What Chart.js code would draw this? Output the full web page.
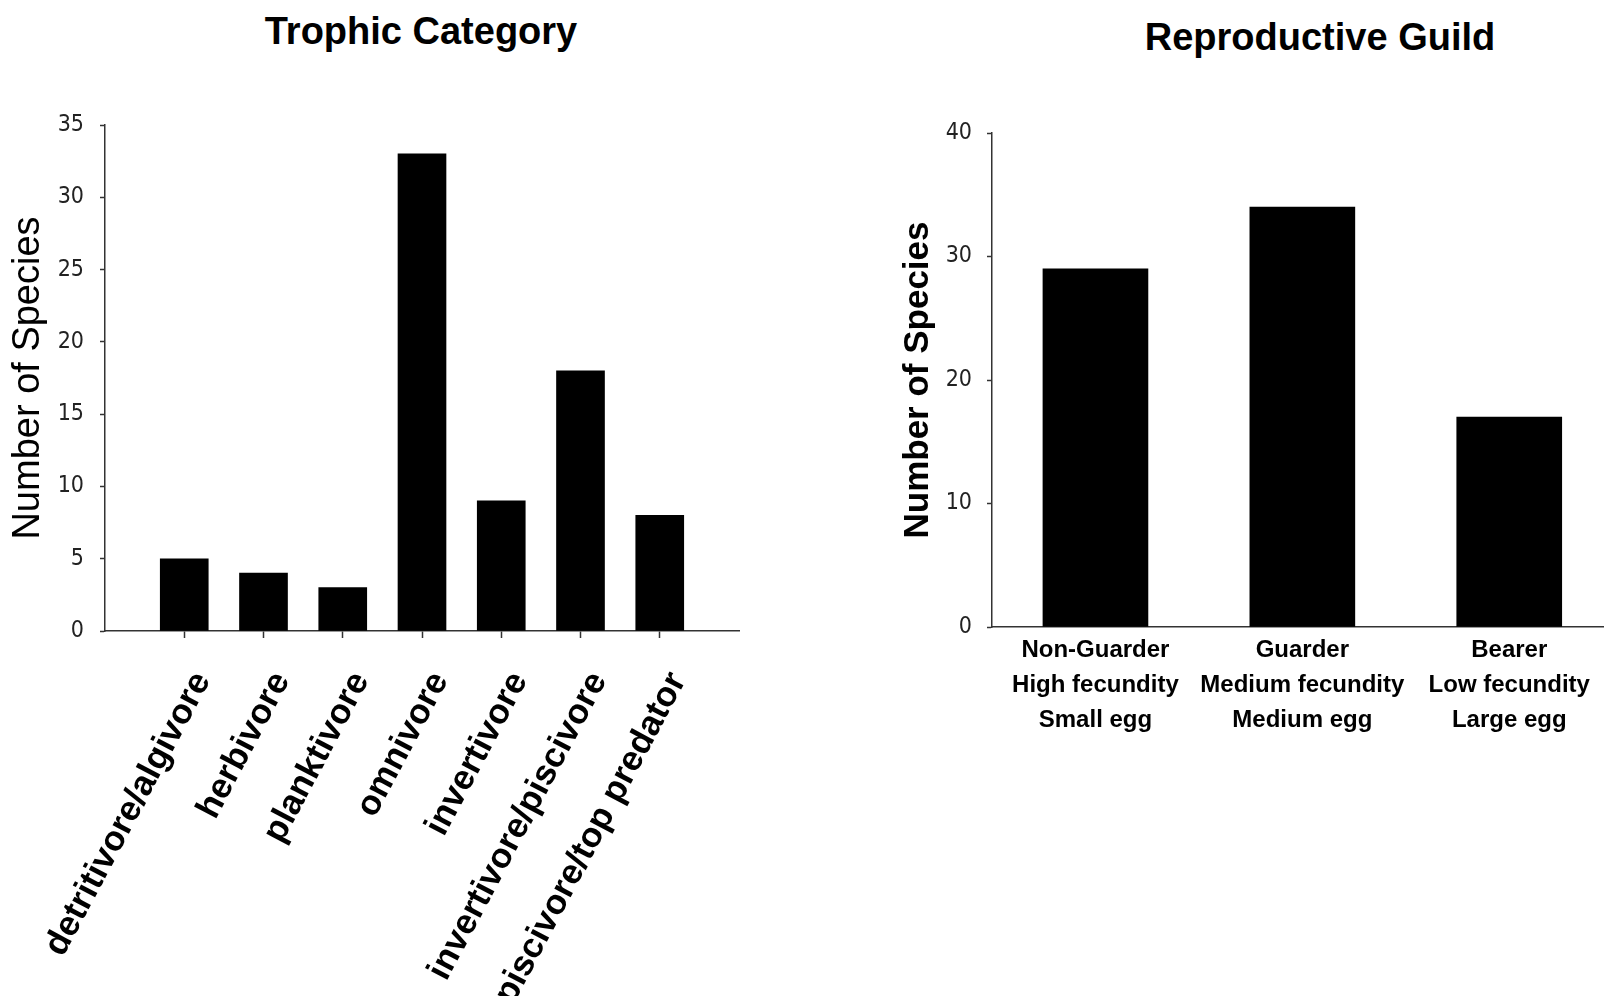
<!DOCTYPE html>
<html>
<head>
<meta charset="utf-8">
<script src="https://cdn.jsdelivr.net/npm/chart.js@4.4.1/dist/chart.umd.min.js"></script>
<style>
html, body { margin: 0; padding: 0; background: #fff; overflow: hidden; }
body { width: 1604px; height: 996px; position: relative; font-family: 'Liberation Sans', Arial, sans-serif; }
.title { position: absolute; width: 400px; text-align: center; font-weight: bold; font-size: 38px; line-height: 40px; color: #000; }
#leftBox { position: absolute; left: 0; top: 0; width: 800px; height: 996px; }
#rightBox { position: absolute; left: 870px; top: 0; width: 734px; height: 996px; }
</style>
</head>
<body>
<div class="title" style="left:221px; top:11px;">Trophic Category</div>
<div class="title" style="left:1120px; top:17px;">Reproductive Guild</div>
<div id="leftBox"><canvas id="trophic" width="800" height="996"></canvas></div>
<div id="rightBox"><canvas id="guild" width="734" height="996"></canvas></div>
<script>
var trophicCategories = ['detritivore/algivore', 'herbivore', 'planktivore', 'omnivore',
    'invertivore', 'invertivore/piscivore', 'piscivore/top predator'];
var trophicCounts = [5, 4, 3, 33, 9, 18, 8];

var guildNames = [
    ['Non-Guarder', 'High fecundity', 'Small egg'],
    ['Guarder', 'Medium fecundity', 'Medium egg'],
    ['Bearer', 'Low fecundity', 'Large egg']
];
var guildCounts = [29, 34, 17];

var narrow = "'Liberation Sans Narrow', 'Arial Narrow', 'DejaVu Sans Condensed', sans-serif";
var plain = "'Liberation Sans', Arial, sans-serif";
var axisColor = '#333';

// bars sit at x = 1, 2, 3 ... on a linear axis so the axis can run past the first/last bar
function points(values) {
    return values.map(function (v, i) { return { x: i + 1, y: v }; });
}
function tickList(labels) {
    return labels.map(function (l, i) { return { value: i + 1 }; });
}

new Chart(document.getElementById('trophic'), {
    type: 'bar',
    data: {
        datasets: [{
            data: points(trophicCounts),
            backgroundColor: '#000',
            barThickness: 48
        }]
    },
    options: {
        responsive: false,
        animation: false,
        layout: { padding: { top: 125, right: 61, left: 0, bottom: 0 } },
        plugins: { legend: { display: false }, tooltip: { enabled: false } },
        scales: {
            x: {
                type: 'linear', min: 0, max: 8, offset: false,
                afterBuildTicks: function (s) { s.ticks = tickList(trophicCategories); },
                afterFit: function (s) { s.height = 365; },
                grid: { drawOnChartArea: false, offset: false, tickLength: 7, tickColor: axisColor, tickWidth: 1.5 },
                border: { color: axisColor, width: 1.5 },
                ticks: {
                    autoSkip: false, minRotation: 62, maxRotation: 62, padding: 19, labelOffset: 18,
                    color: '#000',
                    font: { family: plain, size: 35, weight: 'bold', lineHeight: 2.2 },
                    callback: function (v) { return trophicCategories[v - 1] || ''; }
                }
            },
            y: {
                min: 0, max: 35,
                afterFit: function (s) { s.width = 105; },
                grid: { drawOnChartArea: false, tickLength: 5, tickColor: axisColor, tickWidth: 1.5 },
                border: { color: axisColor, width: 1.5 },
                ticks: { stepSize: 5, padding: 16, color: '#222', font: { family: narrow, size: 23 } },
                title: {
                    display: true, text: 'Number of Species', color: '#000',
                    font: { family: plain, size: 38 }, padding: { top: 6, bottom: 0 }
                }
            }
        }
    }
});

new Chart(document.getElementById('guild'), {
    type: 'bar',
    data: {
        datasets: [{
            data: points(guildCounts),
            backgroundColor: '#000',
            barThickness: 105
        }]
    },
    options: {
        responsive: false,
        animation: false,
        layout: { padding: { top: 133, right: 0, left: 0, bottom: 0 } },
        plugins: { legend: { display: false }, tooltip: { enabled: false } },
        scales: {
            x: {
                type: 'linear', min: 0.5, max: 3.458, offset: false,
                afterBuildTicks: function (s) { s.ticks = tickList(guildNames); },
                afterFit: function (s) { s.height = 369; },
                grid: { drawOnChartArea: false, drawTicks: false, offset: false },
                border: { color: axisColor, width: 1.5 },
                ticks: {
                    autoSkip: false, minRotation: 0, maxRotation: 0, padding: 6, color: '#000',
                    font: { family: plain, size: 24, weight: 'bold', lineHeight: 1.45 },
                    callback: function (v) { return guildNames[v - 1] || ''; }
                }
            },
            y: {
                min: 0, max: 40,
                afterFit: function (s) { s.width = 122; },
                grid: { drawOnChartArea: false, tickLength: 5, tickColor: axisColor, tickWidth: 1.5 },
                border: { color: axisColor, width: 1.5 },
                ticks: { stepSize: 10, padding: 15, color: '#222', font: { family: narrow, size: 23 } },
                title: {
                    display: true, text: 'Number of Species', color: '#000',
                    font: { family: plain, size: 35, weight: 'bold' }, padding: { top: 27, bottom: 0 }
                }
            }
        }
    }
});
</script>
</body>
</html>
